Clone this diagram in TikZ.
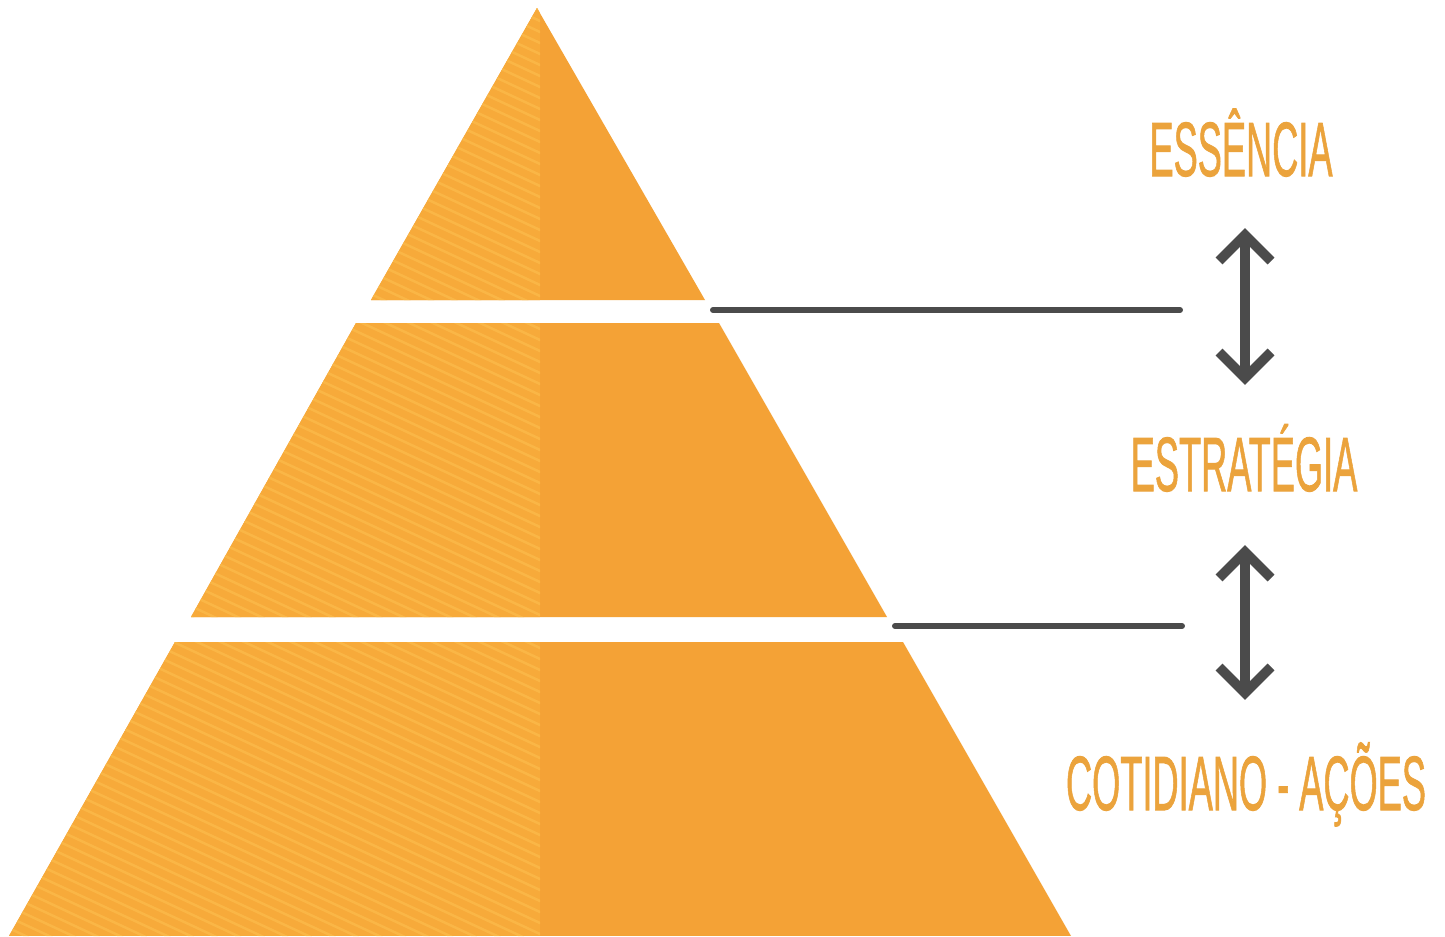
\documentclass[tikz,border=0pt]{standalone}
\usepackage{fontspec}
\setmainfont{Liberation Sans}
\newfontfamily\lblfont{Liberation Sans}[FakeBold=1.3]
\definecolor{pyrL}{HTML}{F7AA3A}
\definecolor{pyrR}{HTML}{F4A236}
\definecolor{stripe}{HTML}{FBBA4A}
\definecolor{lbl}{HTML}{EBA33C}
\definecolor{conn}{HTML}{4B4B4B}
\newcommand\pyrpiece[1]{%
  \begin{scope}
    \clip #1;
    \fill[pyrR] (0,0) rectangle (1445,936);
    \fill[pyrL] (0,0) rectangle (540,936);
    \clip (0,0) rectangle (540,936);
    \foreach \k in {-30,...,90} \draw[stripestyle] (0,\k*11) -- ++(600,280);
  \end{scope}}
\newcommand\lbltext[1]{\scalebox{0.47}[1]{\lblfont\fontsize{21.9pt}{24pt}\selectfont #1}}
\begin{document}
\begin{tikzpicture}[x=0.01cm,y=-0.01cm,
  stripestyle/.style={stripe, line width=0.7pt, opacity=0.8},
  levelline/.style={conn, line width=1.7pt, line cap=round},
  arrowline/.style={conn, line width=2.8pt, line cap=butt, miter limit=10},
  lblnode/.style={text=lbl, inner sep=0pt, anchor=base}]
\useasboundingbox (0,0) rectangle (1445,936);
\fill[white] (0,0) rectangle (1445,936);

% pyramid pieces
\pyrpiece{(537,8)--(705,300)--(371,300)--cycle}
\pyrpiece{(356,323)--(719,323)--(887,617)--(191,617)--cycle}
\pyrpiece{(175,642)--(903,642)--(1071,936)--(9,936)--cycle}

% level lines
\coordinate (l1a) at (713,310);
\coordinate (l1b) at (1180,310);
\coordinate (l2a) at (895,626);
\coordinate (l2b) at (1182,626);
\draw[levelline] (l1a) -- (l1b);
\draw[levelline] (l2a) -- (l2b);

% labels
\node[lblnode] (essencia) at (1241,176) {\lbltext{ESSÊNCIA}};
\node[lblnode] (estrategia) at (1244,491) {\lbltext{ESTRATÉGIA}};
\node[lblnode] (cotidiano) at (1246,810) {\lbltext{COTIDIANO - AÇÕES}};

% double arrows
\coordinate (a1t) at (1245,235);
\coordinate (a1b) at (1245,378);
\draw[arrowline] (a1t) -- (a1b);
\draw[arrowline] (a1t) ++(-26,26) -- (a1t) -- ++(26,26);
\draw[arrowline] (a1b) ++(-26,-26) -- (a1b) -- ++(26,-26);

\coordinate (a2t) at (1245,552);
\coordinate (a2b) at (1245,693);
\draw[arrowline] (a2t) -- (a2b);
\draw[arrowline] (a2t) ++(-26,26) -- (a2t) -- ++(26,26);
\draw[arrowline] (a2b) ++(-26,-26) -- (a2b) -- ++(26,-26);
\end{tikzpicture}
\end{document}
